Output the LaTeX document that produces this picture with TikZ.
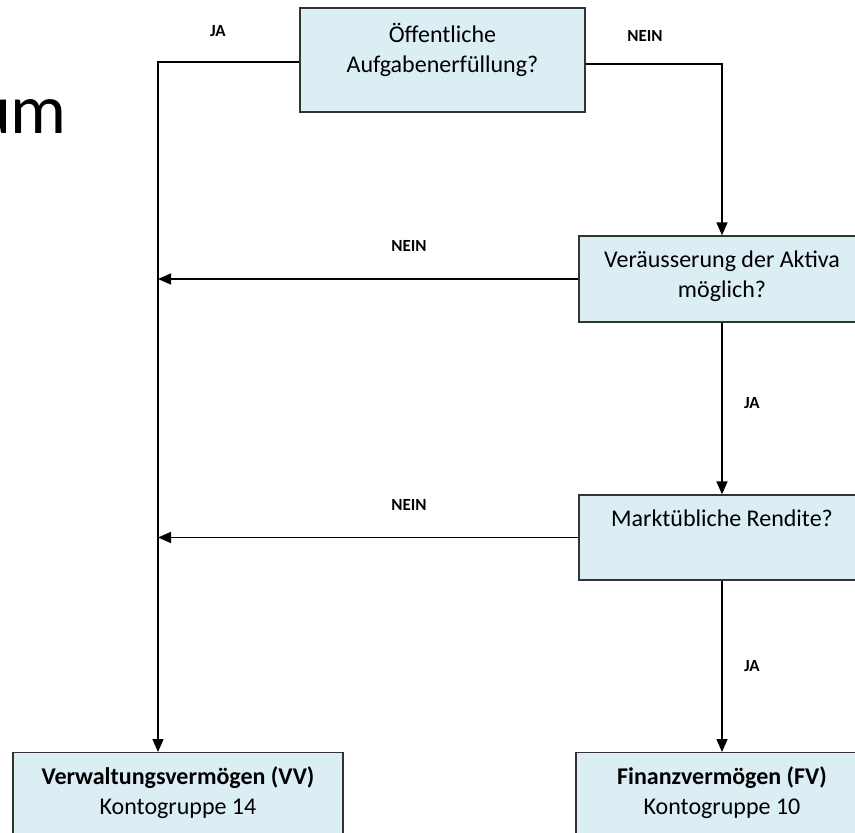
\documentclass[tikz,border=0pt]{standalone}
\usepackage{fontspec}
\setmainfont{Carlito}
\usetikzlibrary{arrows.meta, positioning, calc}
\definecolor{boxblue}{RGB}{219,238,244}

\begin{document}
\begin{tikzpicture}[
    x=1pt, y=-1pt,
    box/.style={rectangle, draw=black!80, fill=boxblue, line width=1.3pt, inner sep=0pt},
    boxtext/.style={align=center, inner sep=0pt, font=\fontsize{24}{30}\selectfont, execute at begin node=\strut},
    lbl/.style={inner sep=0pt, font=\fontsize{17}{20}\selectfont\bfseries},
    arr/.style={-{Triangle[length=13pt, width=11pt]}, draw=black, line width=1.5pt}
  ]
    \useasboundingbox (0,0) rectangle (855,833);
    \clip (0,0) rectangle (855,833);
    \fill[white] (0,0) rectangle (855,833);

    \node[anchor=base east, inner sep=0pt, font=\fontsize{70}{84}\selectfont] (titel) at (67,133) {um};

    \node[box, minimum width=285pt, minimum height=104pt] (aufgabe) at (442.5,60) {};
    \node[boxtext, below=16pt of aufgabe.north] (aufgabetext) {Öffentliche\\Aufgabenerfüllung?};
    \node[box, boxtext, minimum width=286pt, minimum height=86pt] (veraeusserung) at (722,279) {Veräusserung der Aktiva\\möglich?};
    \node[box, minimum width=286pt, minimum height=85pt] (rendite) at (722,537.5) {};
    \node[boxtext, below=11pt of rendite.north] (renditetext) {Marktübliche Rendite?};
    \node[box, anchor=north, minimum width=330pt, minimum height=120pt] (vv) at (178,752) {};
    \node[boxtext, below=14pt of vv.north] (vvtext) {\textbf{Verwaltungsvermögen (VV)}\\Kontogruppe 14};
    \node[box, anchor=north, minimum width=292pt, minimum height=120pt] (fv) at (722,752) {};
    \node[boxtext, below=14pt of fv.north] (fvtext) {\textbf{Finanzvermögen (FV)}\\Kontogruppe 10};

    \coordinate (ecke) at (158,62);
    \draw[arr] (aufgabe.west |- ecke) -- (ecke) -- (ecke |- vv.north);
    \draw[arr] ($(aufgabe.east)+(0,4)$) -| (veraeusserung.north);
    \draw[arr] (veraeusserung.west) -- (ecke |- veraeusserung.west);
    \draw[arr] (veraeusserung.south) -- (rendite.north);
    \draw[arr] (rendite.west) -- (ecke |- rendite.west);
    \draw[arr] (rendite.south) -- (fv.north);

    % Beschriftungen der Pfeile
    \node[lbl] (ja1) at (218,31) {JA};
    \node[lbl] (nein1) at (645,36) {NEIN};
    \node[lbl] (nein2) at (409,246) {NEIN};
    \node[lbl] (ja2) at (752,403) {JA};
    \node[lbl] (nein3) at (409,505) {NEIN};
    \node[lbl] (ja3) at (752,666) {JA};
\end{tikzpicture}
\end{document}
